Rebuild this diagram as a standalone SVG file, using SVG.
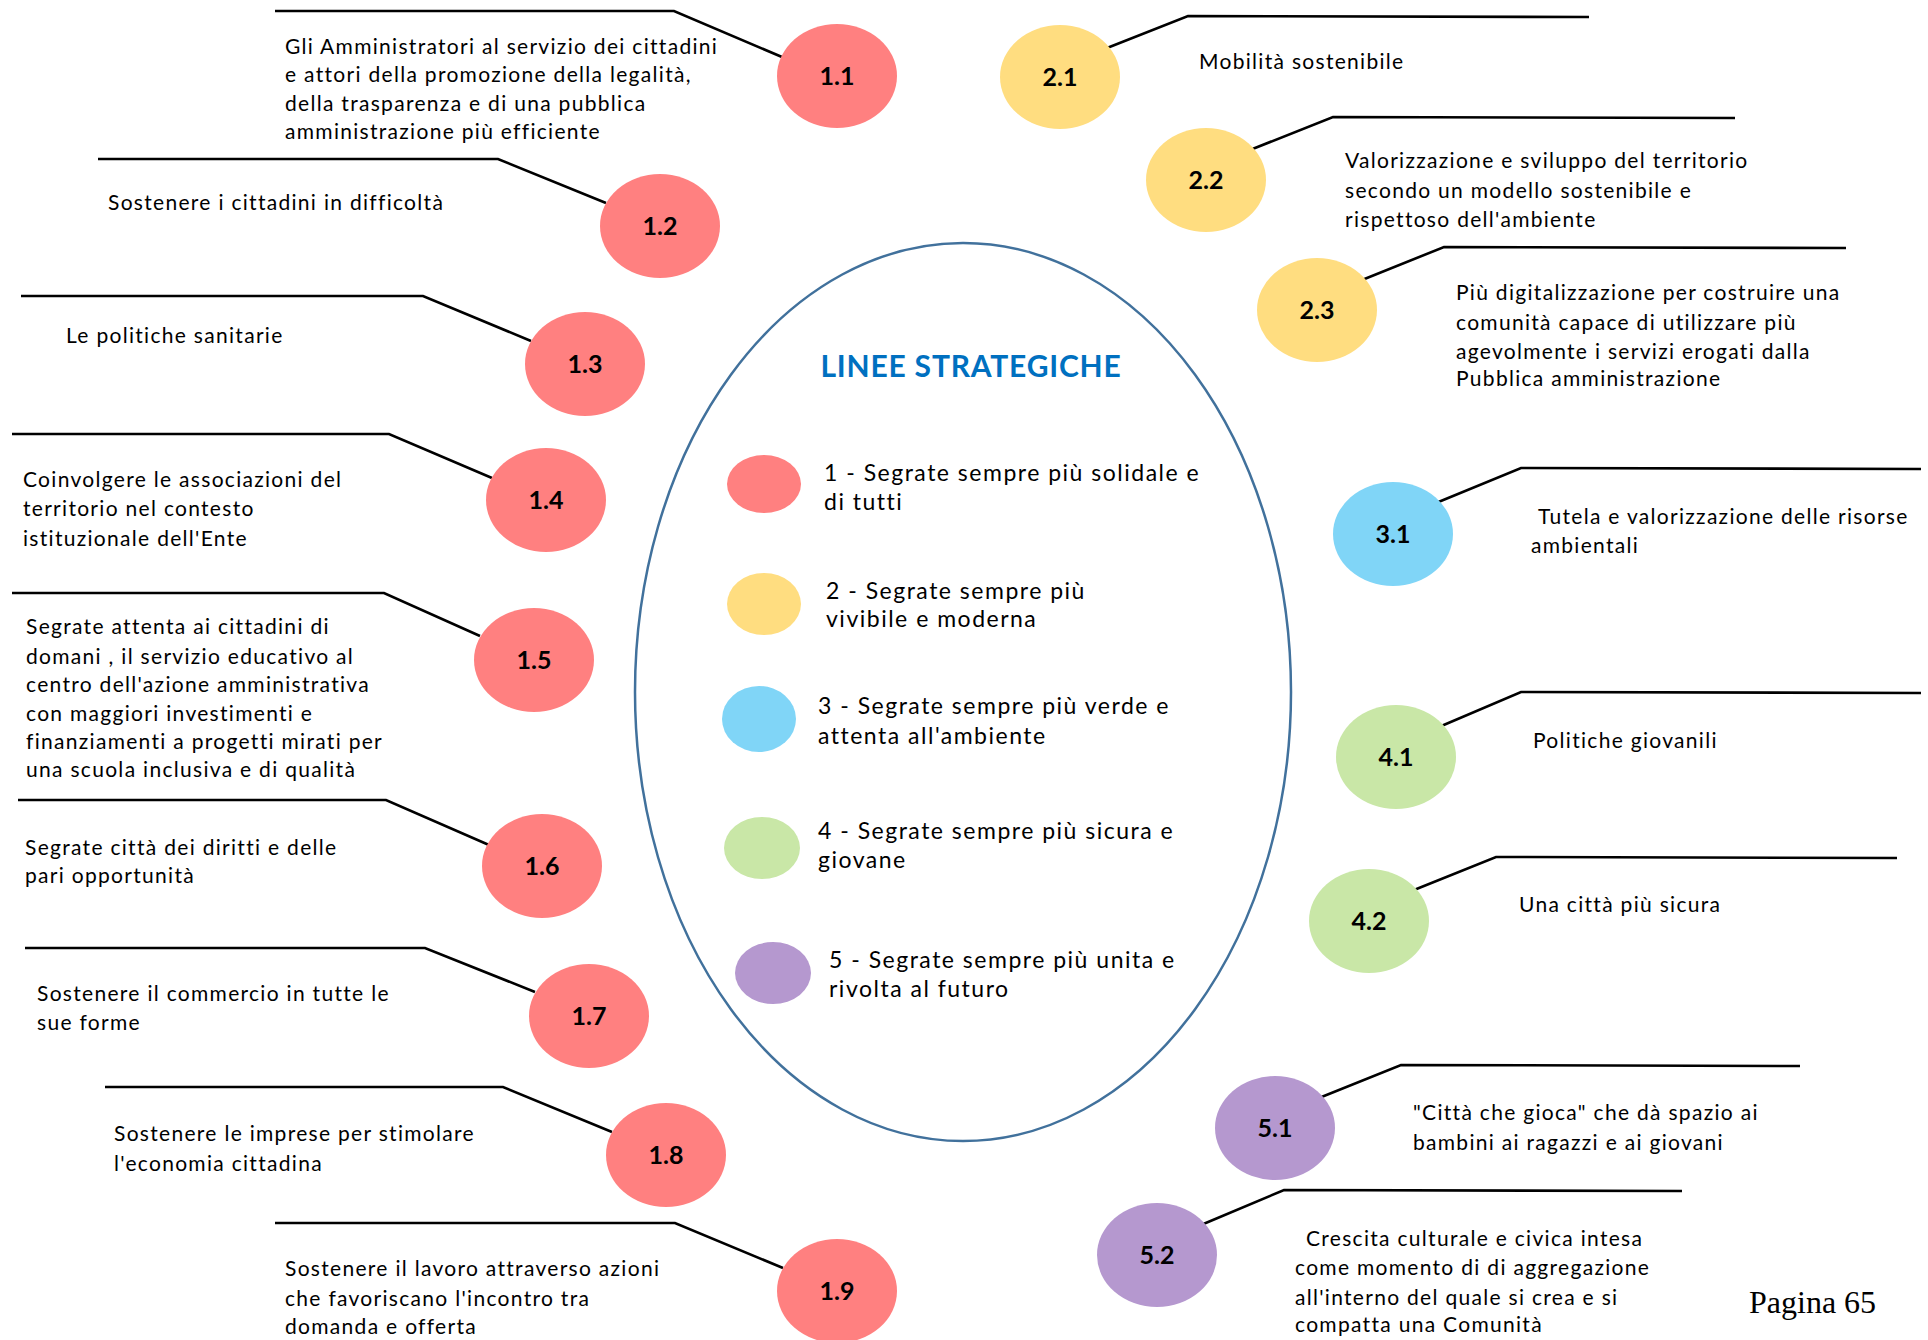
<svg xmlns="http://www.w3.org/2000/svg" width="1928" height="1340" viewBox="0 0 1928 1340">
<style>
.bg{fill:#ffffff}
.c1{fill:#FF8080}.c2{fill:#FFDD80}.c3{fill:#80D5F7}.c4{fill:#C9E7A7}.c5{fill:#B598CF}
.num{font-family:Lato,"Liberation Sans",sans-serif;font-weight:bold;font-size:25px;fill:#000;text-anchor:middle}
.t{font-family:Lato,"Open Sans",sans-serif;font-size:21px;letter-spacing:1.3px;fill:#000}
.lg{font-family:Lato,"Open Sans",sans-serif;font-size:23px;letter-spacing:1.5px;fill:#000}
.title{font-family:Lato,"Open Sans",sans-serif;font-weight:bold;font-size:30px;letter-spacing:0.8px;fill:#0070C0;text-anchor:middle}
.ln{fill:none;stroke:#000;stroke-width:2.6}
.pg{font-family:"Liberation Serif",serif;font-size:32px;fill:#000}
</style>
<rect class="bg" width="1928" height="1340"/>
<g id="connectors">
<polyline class="ln" points="275,11 674,11 782,57"/>
<polyline class="ln" points="98,159 498,159 606,203"/>
<polyline class="ln" points="21,296 423,296 531,341"/>
<polyline class="ln" points="12,434 389,434 492,478"/>
<polyline class="ln" points="12,593 384,593 480,636"/>
<polyline class="ln" points="18,800 386,800 489,845"/>
<polyline class="ln" points="25,948 425,948 535,992"/>
<polyline class="ln" points="105,1087 503,1087 612,1132"/>
<polyline class="ln" points="275,1223 675,1223 783,1268"/>
<polyline class="ln" points="1107,48 1188,16 1589,17"/>
<polyline class="ln" points="1250,150 1333,117 1735,118"/>
<polyline class="ln" points="1362,280 1444,247 1846,248"/>
<polyline class="ln" points="1436,503 1521,468 1921,469"/>
<polyline class="ln" points="1439,727 1521,692 1921,693"/>
<polyline class="ln" points="1414,890 1496,857 1897,858"/>
<polyline class="ln" points="1319,1098 1401,1065 1800,1066"/>
<polyline class="ln" points="1201,1225 1284,1190 1682,1191"/>
</g>
<g id="center">
<ellipse cx="963" cy="692" rx="328" ry="449" fill="none" stroke="#41719C" stroke-width="2.5"/>
<text class="title" x="971" y="377">LINEE STRATEGICHE</text>
</g>
<g id="legend1"><ellipse class="c1" cx="764" cy="484" rx="37" ry="29"/><text class="lg" x="824" y="481">1 - Segrate sempre più solidale e</text><text class="lg" x="824" y="510">di tutti</text></g>
<g id="legend2"><ellipse class="c2" cx="764" cy="604" rx="37" ry="31"/><text class="lg" x="826" y="599">2 - Segrate sempre più</text><text class="lg" x="826" y="627">vivibile e moderna</text></g>
<g id="legend3"><ellipse class="c3" cx="759" cy="719" rx="37" ry="33"/><text class="lg" x="818" y="714">3 - Segrate sempre più verde e</text><text class="lg" x="818" y="744">attenta all'ambiente</text></g>
<g id="legend4"><ellipse class="c4" cx="762" cy="848" rx="38" ry="31"/><text class="lg" x="818" y="839">4 - Segrate sempre più sicura e</text><text class="lg" x="818" y="868">giovane</text></g>
<g id="legend5"><ellipse class="c5" cx="773" cy="973" rx="38" ry="31"/><text class="lg" x="829" y="968">5 - Segrate sempre più unita e</text><text class="lg" x="829" y="997">rivolta al futuro</text></g>

<g id="n1-1"><ellipse class="c1" cx="837" cy="76" rx="60" ry="52"/><text class="num" x="837" y="85">1.1</text>
<text class="t" x="285" y="54">Gli Amministratori al servizio dei cittadini</text><text class="t" x="285" y="82">e attori della promozione della legalità,</text><text class="t" x="285" y="111">della trasparenza e di una pubblica</text><text class="t" x="285" y="139">amministrazione più efficiente</text></g>
<g id="n1-2"><ellipse class="c1" cx="660" cy="226" rx="60" ry="52"/><text class="num" x="660" y="235">1.2</text>
<text class="t" x="108" y="210">Sostenere i cittadini in difficoltà</text></g>
<g id="n1-3"><ellipse class="c1" cx="585" cy="364" rx="60" ry="52"/><text class="num" x="585" y="373">1.3</text>
<text class="t" x="66" y="343">Le politiche sanitarie</text></g>
<g id="n1-4"><ellipse class="c1" cx="546" cy="500" rx="60" ry="52"/><text class="num" x="546" y="509">1.4</text>
<text class="t" x="23" y="487">Coinvolgere le associazioni del</text><text class="t" x="23" y="516">territorio nel contesto</text><text class="t" x="23" y="546">istituzionale dell'Ente</text></g>
<g id="n1-5"><ellipse class="c1" cx="534" cy="660" rx="60" ry="52"/><text class="num" x="534" y="669">1.5</text>
<text class="t" x="26" y="634">Segrate attenta ai cittadini di</text><text class="t" x="26" y="664">domani , il servizio educativo al</text><text class="t" x="26" y="692">centro dell'azione amministrativa</text><text class="t" x="26" y="721">con maggiori investimenti e</text><text class="t" x="26" y="749">finanziamenti a progetti mirati per</text><text class="t" x="26" y="777">una scuola inclusiva e di qualità</text></g>
<g id="n1-6"><ellipse class="c1" cx="542" cy="866" rx="60" ry="52"/><text class="num" x="542" y="875">1.6</text>
<text class="t" x="25" y="855">Segrate città dei diritti e delle</text><text class="t" x="25" y="883">pari opportunità</text></g>
<g id="n1-7"><ellipse class="c1" cx="589" cy="1016" rx="60" ry="52"/><text class="num" x="589" y="1025">1.7</text>
<text class="t" x="37" y="1001">Sostenere il commercio in tutte le</text><text class="t" x="37" y="1030">sue forme</text></g>
<g id="n1-8"><ellipse class="c1" cx="666" cy="1155" rx="60" ry="52"/><text class="num" x="666" y="1164">1.8</text>
<text class="t" x="114" y="1141">Sostenere le imprese per stimolare</text><text class="t" x="114" y="1171">l'economia cittadina</text></g>
<g id="n1-9"><ellipse class="c1" cx="837" cy="1291" rx="60" ry="52"/><text class="num" x="837" y="1300">1.9</text>
<text class="t" x="285" y="1276">Sostenere il lavoro attraverso azioni</text><text class="t" x="285" y="1306">che favoriscano l'incontro tra</text><text class="t" x="285" y="1334">domanda e offerta</text></g>

<g id="n2-1"><ellipse class="c2" cx="1060" cy="77" rx="60" ry="52"/><text class="num" x="1060" y="86">2.1</text>
<text class="t" x="1199" y="69">Mobilità sostenibile</text></g>
<g id="n2-2"><ellipse class="c2" cx="1206" cy="180" rx="60" ry="52"/><text class="num" x="1206" y="189">2.2</text>
<text class="t" x="1345" y="168">Valorizzazione e sviluppo del territorio</text><text class="t" x="1345" y="198">secondo un modello sostenibile e</text><text class="t" x="1345" y="227">rispettoso dell'ambiente</text></g>
<g id="n2-3"><ellipse class="c2" cx="1317" cy="310" rx="60" ry="52"/><text class="num" x="1317" y="319">2.3</text>
<text class="t" x="1456" y="300">Più digitalizzazione per costruire una</text><text class="t" x="1456" y="330">comunità capace di utilizzare più</text><text class="t" x="1456" y="359">agevolmente i servizi erogati dalla</text><text class="t" x="1456" y="386">Pubblica amministrazione</text></g>
<g id="n3-1"><ellipse class="c3" cx="1393" cy="534" rx="60" ry="52"/><text class="num" x="1393" y="543">3.1</text>
<text class="t" x="1538" y="524">Tutela e valorizzazione delle risorse</text><text class="t" x="1531" y="553">ambientali</text></g>
<g id="n4-1"><ellipse class="c4" cx="1396" cy="757" rx="60" ry="52"/><text class="num" x="1396" y="766">4.1</text>
<text class="t" x="1533" y="748">Politiche giovanili</text></g>
<g id="n4-2"><ellipse class="c4" cx="1369" cy="921" rx="60" ry="52"/><text class="num" x="1369" y="930">4.2</text>
<text class="t" x="1519" y="912">Una città più sicura</text></g>
<g id="n5-1"><ellipse class="c5" cx="1275" cy="1128" rx="60" ry="52"/><text class="num" x="1275" y="1137">5.1</text>
<text class="t" x="1413" y="1120">"Città che gioca" che dà spazio ai</text><text class="t" x="1413" y="1150">bambini ai ragazzi e ai giovani</text></g>
<g id="n5-2"><ellipse class="c5" cx="1157" cy="1255" rx="60" ry="52"/><text class="num" x="1157" y="1264">5.2</text>
<text class="t" x="1306" y="1246">Crescita culturale e civica intesa</text><text class="t" x="1295" y="1275">come momento di di aggregazione</text><text class="t" x="1295" y="1305">all'interno del quale si crea e si</text><text class="t" x="1295" y="1332">compatta una Comunità</text></g>
<text class="pg" x="1749" y="1313">Pagina 65</text>
</svg>
